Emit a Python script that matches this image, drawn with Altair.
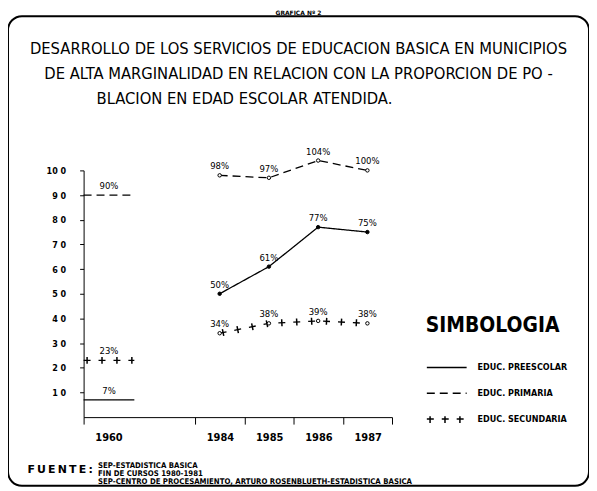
import altair as alt
import pandas as pd

# ---------------- data ----------------
years = [1960, 1984, 1985, 1986, 1987]
series_names = ["EDUC. PREESCOLAR", "EDUC. PRIMARIA", "EDUC. SECUNDARIA"]
preescolar = [7, 50, 61, 77, 75]
primaria = [90, 98, 97, 104, 100]
secundaria = [23, 34, 38, 39, 38]

y_tick_values = [10, 20, 30, 40, 50, 60, 70, 80, 90, 100]
x_tick_values = [1959.5, 1983.5, 1984.5, 1985.5, 1986.5, 1987.5]

chart_label = "GRAFICA   Nº   2"
title_lines = [
    "DESARROLLO DE LOS SERVICIOS DE EDUCACION BASICA EN MUNICIPIOS",
    "DE ALTA MARGINALIDAD EN RELACION CON LA PROPORCION DE PO -",
    "BLACION EN EDAD ESCOLAR ATENDIDA." + "\u2800" * 10,
]
source_head = "F\u2009U\u2009E\u2009N\u2009T\u2009E\u2009:"
source_lines = [
    "SEP-ESTADISTICA BASICA",
    "FIN DE CURSOS 1980-1981",
    "SEP-CENTRO DE PROCESAMIENTO, ARTURO ROSENBLUETH-ESTADISTICA BASICA",
]

rows = []
for name, vals in zip(series_names, [preescolar, primaria, secundaria]):
    for yr, v in zip(years, vals):
        rows.append({"serie": name, "year": yr, "value": v, "label": f"{v}%"})
df = pd.DataFrame(rows)

FONT = "DejaVu Sans Condensed"
CROSS_W = 7
CROSS_DASH = [1.5, 13.5]
CROSS_OFF = 12.25

# ---------------- scales / axes ----------------
x_scale = alt.Scale(domain=[1959.5, 1960.5, 1983.5, 1987.5],
                    range=[76, 127, 188, 386], nice=False, zero=False)
y_scale = alt.Scale(domain=[0, 100], range=[403, 155], nice=False, zero=False)

x_axis = alt.Axis(
    values=x_tick_values,
    labelExpr="datum.value == 1987.5 ? '' : toString(datum.value + 0.5)",
    labelOffset=25, offset=-69, tickSize=7, labelPadding=8,
    labelFont=FONT, labelFontWeight="bold", labelFontSize=11,
    labelColor="black", labelFlush=False, labelOverlap=False, labelBound=False,
    domainColor="black", tickColor="black", grid=False,
    title=source_lines, titleX=90, titleY=45, titleAlign="left",
    titleBaseline="top", titleFontSize=7.8, titleLineHeight=8,
    titleFont=FONT, titleFontWeight="bold", titleColor="black",
)
y_axis = alt.Axis(
    values=y_tick_values,
    labelExpr="slice(toString(datum.value), 0, -1) + ' 0'",
    offset=-76, tickSize=4, labelPadding=14,
    labelFont=FONT, labelFontWeight="bold", labelFontSize=9,
    labelColor="black", domainColor="black", tickColor="black", grid=False,
    title=source_head, titleAngle=0, titleX=-57, titleY=456, titleAlign="left",
    titleBaseline="middle", titleFontSize=11, titleFont="DejaVu Sans",
    titleFontWeight="bold", titleColor="black",
)

dash_scale = alt.Scale(domain=series_names, range=[[1, 0], [8, 5], [7, 8]])
legend = alt.Legend(
    orient="none", legendX=420, legendY=300, title="SIMBOLOGIA",
    titleFont=FONT, titleFontSize=21, titleFontWeight="bold",
    titleColor="black", titlePadding=11,
    labelFont=FONT, labelFontSize=9, labelFontWeight="bold",
    labelColor="black", labelOffset=10,
    symbolType="stroke", symbolSize=1600, symbolStrokeWidth=1.5,
    symbolStrokeColor="black", rowPadding=-15,
)
# vertical bars of the "+ + +" symbol, laid over the secundaria legend entry
cross_legend = alt.Legend(
    orient="none", legendX=420, legendY=382, title=None, values=[CROSS_W],
    labelExpr="''", symbolType="stroke", symbolSize=1600,
    symbolDash=CROSS_DASH, symbolDashOffset=0,
    symbolStrokeColor="black",
)

X = alt.X("year:Q", scale=x_scale, axis=x_axis)
Y = alt.Y("value:Q", scale=y_scale, axis=y_axis)

base = alt.Chart(df)
recent = base.transform_filter("datum.year >= 1984")
first = base.transform_filter("datum.year == 1960").transform_calculate(
    x0="datum.year - 0.5", x1="datum.year + 0.5")

lines = recent.mark_line(color="black", strokeWidth=1.3).encode(
    x=X, y=Y, strokeDash=alt.StrokeDash("serie:N", scale=dash_scale, legend=legend))
crosses = recent.transform_filter("datum.serie == 'EDUC. SECUNDARIA'").transform_calculate(
    cw=str(CROSS_W)).mark_line(
    color="black", strokeDash=CROSS_DASH, strokeDashOffset=CROSS_OFF,
    strokeCap="butt").encode(
    x=X, y=Y,
    strokeWidth=alt.StrokeWidth("cw:Q", scale=alt.Scale(domain=[0, CROSS_W], range=[0, CROSS_W]),
                                legend=cross_legend))

rules = first.mark_rule(color="black", strokeWidth=1.3).encode(
    x=alt.X("x0:Q", scale=x_scale, axis=x_axis), x2="x1:Q", y=Y,
    strokeDash=alt.StrokeDash("serie:N", scale=dash_scale, legend=legend))
rule_crosses = first.transform_filter("datum.serie == 'EDUC. SECUNDARIA'").mark_rule(
    color="black", strokeWidth=CROSS_W, strokeDash=CROSS_DASH, strokeDashOffset=CROSS_OFF,
    strokeCap="butt").encode(x=alt.X("x0:Q", scale=x_scale, axis=x_axis), x2="x1:Q", y=Y)

points = recent.mark_point(size=12, strokeWidth=1, color="black", opacity=1).encode(
    x=X, y=Y,
    fill=alt.condition("datum.serie == 'EDUC. PREESCOLAR'", alt.value("black"), alt.value("white")))

labels = base.mark_text(dy=-9, fontSize=9.5, font=FONT,
                        color="black").encode(x=X, y=Y, text="label:N")

chart = alt.layer(rules, rule_crosses, lines, crosses, points, labels).properties(
    width=584, height=472,
    padding=0,
    background="white",
    title=alt.TitleParams(
        text=chart_label, subtitle=title_lines, anchor="middle",
        fontSize=6, font="DejaVu Sans", fontWeight="bold", color="black",
        subtitleFont=FONT, subtitleFontSize=16.5,
        subtitleLineHeight=25, subtitlePadding=26, subtitleColor="black",
        offset=-92,
    ),
).configure_view(stroke="black", strokeWidth=2, cornerRadius=14, fill="white")

chart.save("out.html", embed_options={"renderer": "svg", "actions": False})
